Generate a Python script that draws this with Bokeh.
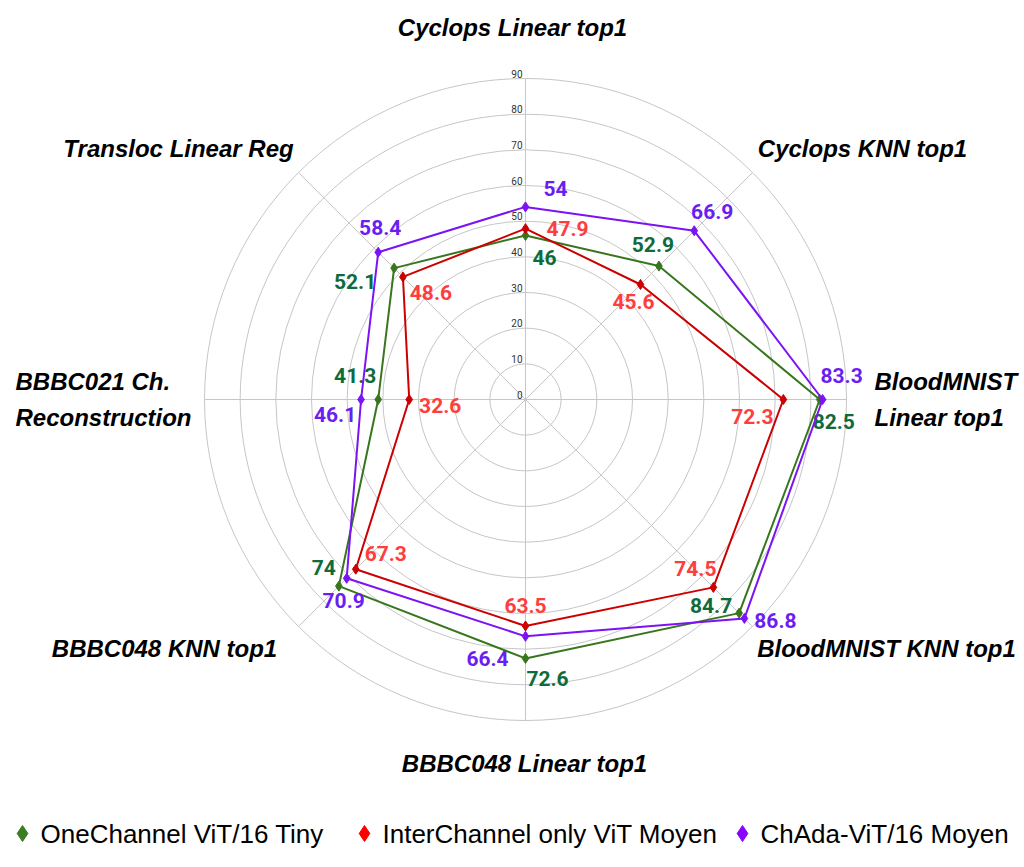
import numpy as np
from bokeh.plotting import figure
from bokeh.models import Range1d, ColumnDataSource
from bokeh.core.properties import value
from bokeh.embed import file_html
from bokeh.resources import INLINE

# ---------------- data ----------------
categories = ["Cyclops Linear top1", "Cyclops KNN top1", "BloodMNIST\nLinear top1",
              "BloodMNIST KNN top1", "BBBC048 Linear top1", "BBBC048 KNN top1",
              "BBBC021 Ch.\nReconstruction", "Transloc Linear Reg"]
series_names = ["OneChannel ViT/16 Tiny", "InterChannel only ViT Moyen", "ChAda-ViT/16 Moyen"]
one_channel = [46, 52.9, 82.5, 84.7, 72.6, 74, 41.3, 52.1]
inter_channel = [47.9, 45.6, 72.3, 74.5, 63.5, 67.3, 32.6, 48.6]
chada = [54, 66.9, 83.3, 86.8, 66.4, 70.9, 46.1, 58.4]
tick_values = [0, 10, 20, 30, 40, 50, 60, 70, 80, 90]

# ---------------- style / layout ----------------
W, H = 1024, 859
CX, CY = 525, 399          # center in figure pixels
RMAX_PX = 321.0
VMAX = 90.0
scale = RMAX_PX / VMAX
angles = np.deg2rad([90, 45, 0, -45, -90, -135, 180, 135])

line_colors = ["#38761d", "#cc0000", "#7b13f5"]
label_colors = ["#0f6b3c", "#ff3d3d", "#6a1ef2"]
legend_colors = ["#3a7d22", "#ff0000", "#8a00ff"]
# label offsets in screen pixels (dx right, dy down) relative to each point
label_offsets = [
    [(19, 22), (-6, -22), (14, 22), (-28, -8), (22, 20), (-15, -19), (-23, -24), (-39, 13)],
    [(42, 0), (-7, 17), (-31, 17), (-18, -19), (0, -20), (30, -16), (31, 6), (28, 16)],
    [(30, -18), (18, -19), (19, -24), (31, 2), (-38, 22), (-3, 22), (-26, 15), (2, -25)],
]
# category label offsets from spoke end (dx right, dy down) and alignment
cat_offsets = [(-13, -51), (110, -24), (28, 0), (134, 22), (-1, 43), (-134, 22), (-189, 0), (-120, -24)]
cat_align = ["center", "center", "left", "center", "center", "center", "left", "center"]

p = figure(width=W, height=H, output_backend="svg", toolbar_location=None,
           x_range=Range1d(-CX, W - CX), y_range=Range1d(-(H - CY), CY),
           min_border=0, outline_line_color=None, background_fill_color="white")
p.axis.visible = False
p.grid.visible = False

# grid circles
for t in tick_values[1:]:
    p.circle(x=0, y=0, radius=t * scale, fill_color=None, line_color="#c6c6c6", line_width=1)

# spokes
p.segment(x0=[0] * 8, y0=[0] * 8,
          x1=list(RMAX_PX * np.cos(angles)), y1=list(RMAX_PX * np.sin(angles)),
          line_color="#c6c6c6", line_width=1)

# tick labels
p.text(x=[-3] * len(tick_values), y=[t * scale + 1 for t in tick_values],
       text=[str(t) for t in tick_values], text_align="right", text_baseline="bottom",
       text_font=value("Roboto"), text_font_size="10px", text_color="#333333")

# series
for vals, lc, tc, offs in zip([one_channel, inter_channel, chada], line_colors, label_colors, label_offsets):
    r = np.array(vals) * scale
    xs = r * np.cos(angles)
    ys = r * np.sin(angles)
    p.line(x=list(xs) + [xs[0]], y=list(ys) + [ys[0]], line_color=lc, line_width=2)
    p.scatter(x=xs, y=ys, marker="diamond", size=10, fill_color=lc, line_color=lc)
    src = ColumnDataSource(dict(x=xs, y=ys, t=[f"{v:g}" for v in vals],
                                dx=[o[0] for o in offs], dy=[o[1] for o in offs]))
    p.text(x="x", y="y", text="t", x_offset="dx", y_offset="dy", source=src,
           text_align="center", text_baseline="middle", text_font=value("Roboto"),
           text_font_style="bold", text_font_size="21px", text_color=tc)

# category labels
for cat, ang, off, al in zip(categories, angles, cat_offsets, cat_align):
    p.text(x=[RMAX_PX * np.cos(ang)], y=[RMAX_PX * np.sin(ang)], text=[cat],
           x_offset=off[0], y_offset=off[1], text_align=al, text_baseline="middle",
           text_font=value("Liberation Sans"), text_font_style="bold italic",
           text_font_size="24px", text_color="black", text_line_height=1.3)

# legend (manual)
leg_y = -(833 - CY)
leg_marker_x = [22 - CX, 364 - CX, 742 - CX]
for name, col, mx in zip(series_names, legend_colors, leg_marker_x):
    p.scatter(x=[mx], y=[leg_y], marker="diamond", size=16, fill_color=col, line_color=col)
    p.text(x=[mx + 18], y=[leg_y], text=[name], text_align="left", text_baseline="middle",
           text_font=value("Liberation Sans"), text_font_size="26px", text_color="black")

open("out.html", "w").write(file_html(p, INLINE))
